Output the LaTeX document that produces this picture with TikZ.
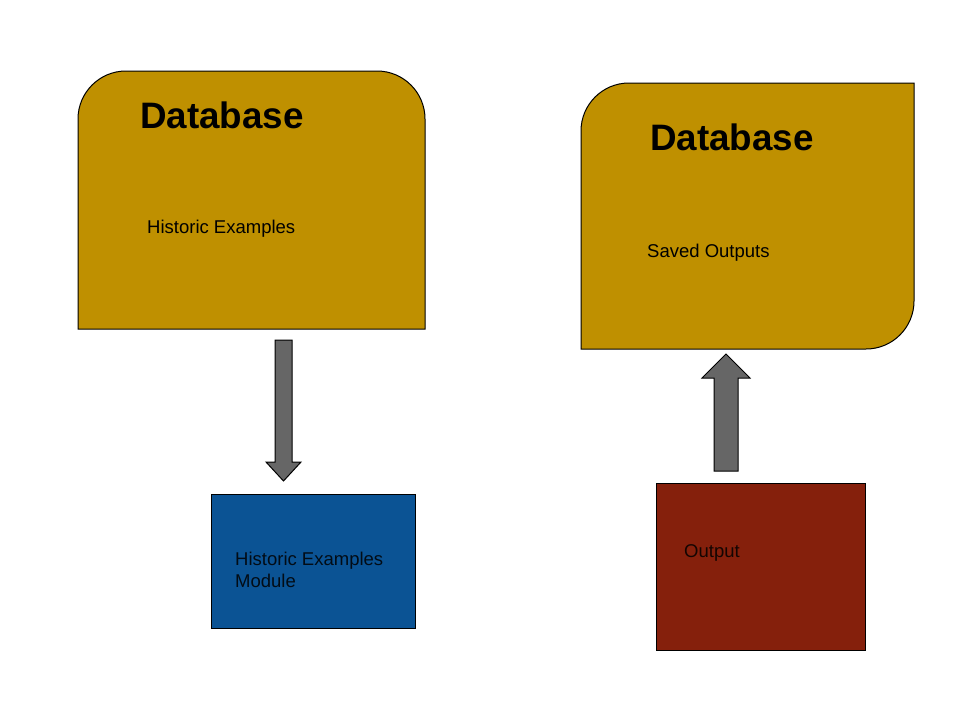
\documentclass[tikz,border=0pt]{standalone}
\usepackage{fontspec}
\setmainfont{Liberation Sans}
\definecolor{gold}{HTML}{BF9000}
\definecolor{modblue}{HTML}{0B5394}
\definecolor{outred}{HTML}{85200C}
\definecolor{arrgrey}{HTML}{666666}
\tikzset{
  boxline/.style={draw=black, line width=1pt},
  bigtitle/.style={anchor=base west, inner sep=0pt, font=\fontsize{36.8}{40}\selectfont\bfseries},
  bodytext/.style={anchor=base west, inner sep=0pt, font=\fontsize{18.5}{22}\selectfont, align=left},
  blockarrow/.style={fill=arrgrey, draw=black, line width=1pt, line join=miter}
}
\begin{document}
\begin{tikzpicture}[x=1pt,y=-1pt]
\useasboundingbox (0,0) rectangle (960,720);
% left database
\draw[boxline, fill=gold] (78,329) -- (78,200) [rounded corners=48pt] -- (78,71) -- (425,71) -- (425,200) [sharp corners] -- (425,329) -- cycle;
\node[bigtitle] (db1) at (140,128) {Database};
\node[bodytext] (hist) at (147,233) {Historic Examples};
% right database
\draw[boxline, fill=gold] (581,349) -- (581,200) [rounded corners=48pt] -- (581,83) [sharp corners] -- (914,83) -- (914,200) [rounded corners=48pt] -- (914,349) [sharp corners] -- (750,349) -- cycle;
\node[bigtitle] (db2) at (650,150) {Database};
\node[bodytext] (saved) at (647,257) {Saved Outputs};
% blue module
\draw[boxline, fill=modblue] (211,494) rectangle (415,628);
\node[bodytext, text=black!85!modblue] (module) at (235,587) {Historic Examples\\[-0.6pt]Module};
% red output
\draw[boxline, fill=outred] (656,483) rectangle (865,650);
\node[bodytext, text=black!85!outred] (output) at (684,557) {Output};
% down arrow
\draw[blockarrow] (275,340) -- (292,340) -- (292,462) -- (301,462) -- (283.5,481) -- (266,462) -- (275,462) -- cycle;
% up arrow
\draw[blockarrow] (714,471) -- (738,471) -- (738,378) -- (750,378) -- (726,354) -- (702,378) -- (714,378) -- cycle;
\end{tikzpicture}
\end{document}
